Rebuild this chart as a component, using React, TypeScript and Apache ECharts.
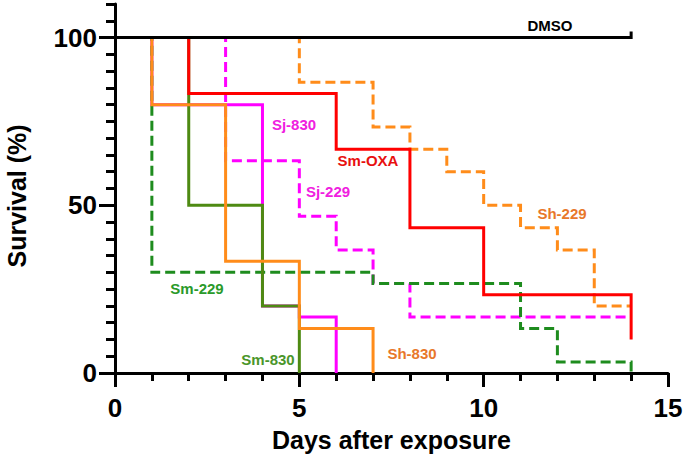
import React, { useEffect, useRef } from "react";
import * as echarts from "echarts";

// ---- data ----
const xTickLabels = [0, 5, 10, 15];
const yTickLabels = [0, 50, 100];

const dmsoDays = [0, 14, 14];
const dmsoSurv = [100, 100, 101.8];
const smOxaDays = [0, 2, 6, 8, 10, 14];
const smOxaSurv = [100, 83.3, 66.7, 43.3, 23.3, 10];
const sh830Days = [0, 1, 3, 5, 7];
const sh830Surv = [100, 80, 33.3, 13.3, 0];
const sh229Days = [0, 5, 7, 8, 9, 10, 11, 12, 13, 14];
const sh229Surv = [100, 86.7, 73.3, 66.7, 60, 50, 43.3, 36.7, 20, 20];
const sm830Days = [0, 2, 4, 5];
const sm830Surv = [100, 50, 20, 0];
const sm229Days = [0, 1, 7, 11, 12, 14];
const sm229Surv = [100, 30, 26.7, 13.3, 3.3, 0];
const sj830Days = [0, 1, 4, 5, 6];
const sj830Surv = [100, 80, 20, 16.7, 0];
const sj229Days = [0, 3, 5, 6, 7, 8, 14];
const sj229Surv = [100, 63.3, 46.7, 36.7, 26.7, 16.7, 16.7];

const FONT = "'Liberation Sans', Arial, Helvetica, sans-serif";

type Curve = { name: string; days: number[]; surv: number[]; color: string; dashed: boolean };

// bottom-to-top drawing order
const curves: Curve[] = [
  { name: "Sj-830", days: sj830Days, surv: sj830Surv, color: "#FF00FF", dashed: false },
  { name: "Sj-229", days: sj229Days, surv: sj229Surv, color: "#FF00FF", dashed: true },
  { name: "Sm-229", days: sm229Days, surv: sm229Surv, color: "#1E8C1E", dashed: true },
  { name: "Sm-830", days: sm830Days, surv: sm830Surv, color: "#4E8A12", dashed: false },
  { name: "Sh-229", days: sh229Days, surv: sh229Surv, color: "#FF8C1A", dashed: true },
  { name: "Sh-830", days: sh830Days, surv: sh830Surv, color: "#FF8C1A", dashed: false },
  { name: "Sm-OXA", days: smOxaDays, surv: smOxaSurv, color: "#FF0000", dashed: false },
  { name: "DMSO", days: dmsoDays, surv: dmsoSurv, color: "#000000", dashed: false },
];

const curveLabels = [
  { text: "DMSO", x: 550, y: 25, color: "#000000" },
  { text: "Sj-830", x: 294, y: 124, color: "#F020E0" },
  { text: "Sm-OXA", x: 368, y: 160, color: "#E81010" },
  { text: "Sj-229", x: 328, y: 191, color: "#F020E0" },
  { text: "Sh-229", x: 562, y: 213, color: "#E8782A" },
  { text: "Sm-229", x: 197, y: 288, color: "#2A9A2A" },
  { text: "Sm-830", x: 268, y: 359, color: "#4A962A" },
  { text: "Sh-830", x: 412, y: 353, color: "#E8782A" },
];

export default function App() {
  const ref = useRef<HTMLDivElement>(null);

  useEffect(() => {
    if (!ref.current) return;
    const chart = echarts.init(ref.current, undefined, { renderer: "svg" });

    const labelStyle = { color: "#000", fontSize: 26, fontWeight: "bold" as const, fontFamily: FONT };

    const option: any = {
      animation: false,
      backgroundColor: "#ffffff",
      grid: { left: 115, right: 19, top: 4, bottom: 84, containLabel: false },
      xAxis: [
        {
          type: "value",
          min: 0,
          max: 15,
          interval: 5,
          position: "bottom",
          axisLine: { show: true, onZero: false, lineStyle: { color: "#000", width: 3 } },
          axisTick: { show: true, length: 14, lineStyle: { color: "#000", width: 3 }, customValues: xTickLabels },
          axisLabel: { ...labelStyle, margin: 22, customValues: xTickLabels },
          splitLine: { show: false },
          name: "Days after exposure",
          nameLocation: "middle",
          nameGap: 54,
          nameTextStyle: { color: "#000", fontSize: 25, fontWeight: "bold", fontFamily: FONT },
        },
        {
          type: "value",
          min: 0,
          max: 15,
          interval: 1,
          position: "bottom",
          axisLine: { show: false, onZero: false },
          axisTick: { show: true, length: 8, lineStyle: { color: "#000", width: 3 } },
          axisLabel: { show: false },
          splitLine: { show: false },
        },
      ],
      yAxis: [
        {
          type: "value",
          min: 0,
          max: 110,
          interval: 50,
          position: "left",
          axisLine: { show: true, onZero: false, lineStyle: { color: "#000", width: 3 } },
          axisTick: { show: true, length: 16, lineStyle: { color: "#000", width: 3 }, customValues: yTickLabels },
          axisLabel: { ...labelStyle, margin: 18, customValues: yTickLabels },
          splitLine: { show: false },
        },
        {
          type: "value",
          min: 0,
          max: 110,
          interval: 5,
          position: "left",
          axisLine: { show: false, onZero: false },
          axisTick: { show: true, length: 9, lineStyle: { color: "#000", width: 3 } },
          axisLabel: { show: false },
          splitLine: { show: false },
        },
      ],
      series: curves.map((c) => ({
        name: c.name,
        type: "line",
        step: "end",
        xAxisIndex: 0,
        yAxisIndex: 0,
        showSymbol: false,
        symbol: "none",
        silent: true,
        clip: false,
        data: c.days.map((d, i) => [d, c.surv[i]]),
        lineStyle: {
          color: c.color,
          width: 3,
          type: c.dashed ? [10, 5] : "solid",
          cap: "butt",
          join: "miter",
        },
      })),
      graphic: [
        {
          type: "text",
          x: 17,
          y: 196,
          rotation: Math.PI / 2,
          style: {
            text: "Survival (%)",
            fill: "#000",
            font: `bold 25px ${FONT}`,
            textAlign: "center",
            textVerticalAlign: "middle",
          },
        },
        ...curveLabels.map((l) => ({
          type: "text",
          x: l.x,
          y: l.y,
          style: {
            text: l.text,
            fill: l.color,
            font: `bold 15px ${FONT}`,
            textAlign: "center",
            textVerticalAlign: "middle",
          },
        })),
      ],
    };

    chart.setOption(option);
    return () => chart.dispose();
  }, []);

  return (
    <div
      ref={ref}
      style={{ position: "fixed", left: 0, top: 0, width: 687, height: 457, background: "#fff" }}
    />
  );
}
